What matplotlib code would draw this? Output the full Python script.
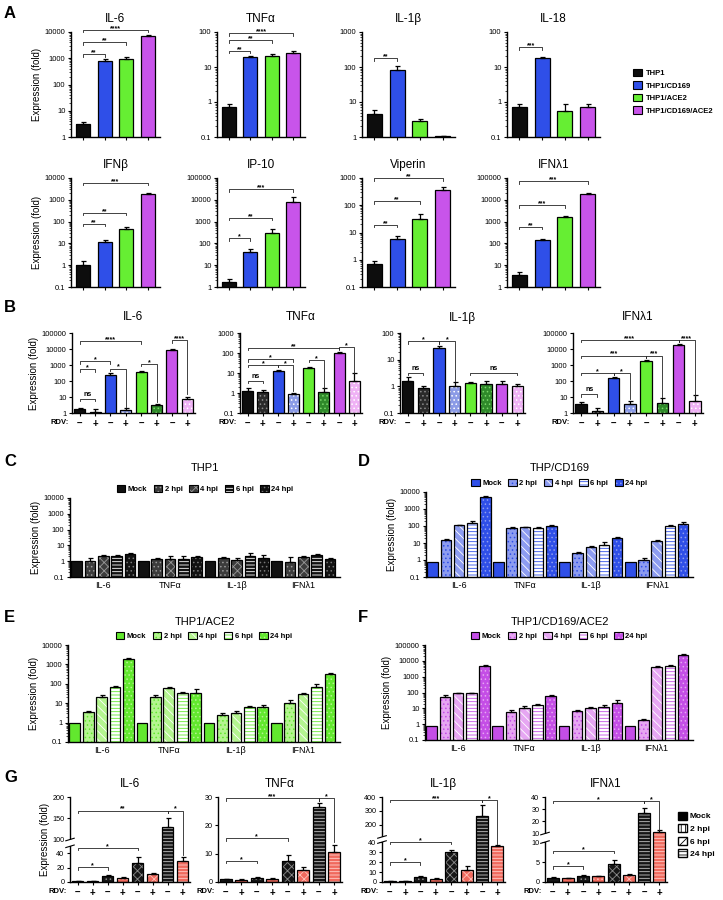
import numpy as np
import matplotlib.pyplot as plt
from matplotlib.patches import Patch, Rectangle
from matplotlib.ticker import FixedLocator, FuncFormatter, LogLocator, NullFormatter

plt.rcParams['font.family'] = ['Liberation Sans', 'DejaVu Sans']
plt.rcParams['hatch.linewidth'] = 0.6
plt.rcParams['axes.linewidth'] = 1.0

W, H = 723.0, 900.0

# ---------------- data ----------------
cells = ['THP1', 'THP1/CD169', 'THP1/ACE2', 'THP1/CD169/ACE2']
cell_colors = ['#0d0d0d', '#2f4fe8', '#66ee33', '#c854ea']
cell_light = ['#2a2a2a', '#8b9be6', '#2f8a2a', '#efb2f5']
cell_dots = ['#8a8a8a', '#ffffff', '#7ad86a', '#ffffff']

# A: four cell lines, eight genes
a_genes = ['IL-6', 'TNFα', 'IL-1β', 'IL-18', 'IFNβ', 'IP-10', 'Viperin', 'IFNλ1']
a_vals = [[3, 800, 900, 7000], [0.7, 19, 21, 25], [4.5, 80, 2.8, 1.05], [0.7, 18, 0.55, 0.7],
          [1, 12, 45, 1800], [1.7, 40, 300, 8000], [0.7, 6, 32, 350], [3.5, 140, 1700, 18000]]
a_errs = [[0.8, 150, 250, 1000], [0.15, 2, 2, 3], [1.5, 30, 0.4, 0.05], [0.15, 1.5, 0.3, 0.2],
          [0.6, 3, 10, 200], [0.6, 15, 150, 6000], [0.2, 1.5, 15, 100], [1.2, 20, 150, 2000]]
a_ylims = [(1, 1e4), (0.1, 100), (1, 1000), (0.1, 100), (0.1, 1e4), (1, 1e5), (0.1, 1000), (1, 1e5)]
a_sig = [[(0, 1, '**', 1400), (0, 2, '**', 4000), (0, 3, '****', 12000)],
         [(0, 1, '**', 29), (0, 2, '**', 59), (0, 3, '****', 93)],
         [(0, 1, '**', 180)],
         [(0, 1, '***', 37)],
         [(0, 1, '**', 80), (0, 2, '**', 250), (0, 3, '***', 6000)],
         [(0, 1, '*', 170), (0, 2, '**', 1500), (0, 3, '***', 30000)],
         [(0, 1, '**', 19), (0, 2, '**', 140), (0, 3, '**', 1000)],
         [(0, 1, '**', 580), (0, 2, '***', 5700), (0, 3, '***', 72000)]]

# B: remdesivir -, + for each cell line
genes4 = ['IL-6', 'TNFα', 'IL-1β', 'IFNλ1']
rdv = ['–', '+', '–', '+', '–', '+', '–', '+']
b_vals = [[1.8, 1.2, 250, 1.5, 350, 3, 9000, 8],
          [1.3, 1.1, 12, 0.85, 18, 1.1, 100, 4],
          [1.6, 0.9, 28, 1.0, 1.3, 1.2, 1.2, 1.0],
          [3.5, 1.3, 150, 3.5, 1800, 4.5, 18000, 6]]
b_errs = [[0.3, 0.6, 50, 0.5, 50, 0.5, 1000, 2],
          [0.4, 0.3, 2, 0.15, 2, 0.6, 15, 6],
          [0.6, 0.15, 5, 0.5, 0.15, 0.4, 0.4, 0.2],
          [1.5, 0.8, 30, 2.5, 200, 4.5, 2000, 7]]
b_ylims = [(1, 1e5), (0.1, 1000), (0.1, 100), (1, 1e5)]
b_sig = [[(0, 1, 'ns', 8, None), (0, 1, '*', 540, None), (0, 2, '*', 1700, None),
          (2, 3, '*', 600, 2.5), (4, 5, '*', 1200, 5), (0, 4, '****', 30000, None),
          (6, 7, '****', 35000, 15)],
         [(0, 1, 'ns', 4, None), (0, 2, '*', 26, None), (2, 3, '*', 26, 1.2),
          (0, 3, '*', 50, None), (4, 5, '*', 45, 1.8), (0, 6, '**', 180, None), (6, 7, '*', 200, 10)],
         [(0, 1, 'ns', 3.2, None), (0, 2, '*', 49, None), (2, 3, '*', 49, 1.6), (4, 7, 'ns', 3.2, None)],
         [(0, 1, 'ns', 15, None), (0, 2, '*', 320, None), (2, 3, '*', 320, 7),
          (0, 4, '***', 3900, None), (4, 5, '***', 3900, 10),
          (0, 6, '****', 37000, None), (6, 7, '****', 37000, 12)]]

# C-F: time course after infection
hpi = ['Mock', '2 hpi', '4 hpi', '6 hpi', '24 hpi']
c_vals = [[1, 1, 2, 2, 2.8], [1, 1.4, 1.4, 1.4, 1.8], [1, 1.6, 1.2, 2, 1.7], [1, 0.9, 1.9, 2.3, 1.4]]
c_errs = [[0, 0.5, 0.3, 0.3, 0.4], [0, 0.2, 0.7, 0.6, 0.3], [0, 0.2, 0.3, 1.3, 0.6], [0, 0.9, 0.3, 0.5, 0.3]]
d_vals = [[0.8, 15, 110, 150, 5000], [0.8, 75, 85, 75, 100], [0.8, 2.5, 6, 8, 20], [0.8, 1.0, 13, 100, 130]]
d_errs = [[0, 2, 10, 50, 500], [0, 8, 8, 10, 10], [0, 0.5, 1, 3, 4], [0, 0.3, 2, 15, 40]]
e_vals = [[0.9, 3.5, 22, 70, 2000], [0.9, 22, 60, 35, 35], [0.9, 2.5, 3.2, 6.5, 6.5], [0.9, 10, 30, 70, 330]]
e_errs = [[0, 0.5, 3, 10, 150], [0, 4, 8, 5, 20], [0, 0.8, 0.8, 1, 1.5], [0, 4, 5, 30, 40]]
f_vals = [[0.8, 55, 90, 90, 5000], [0.8, 6, 11, 17, 60], [0.8, 7, 11, 13, 22], [0.8, 1.8, 4000, 5000, 25000]]
f_errs = [[0, 10, 10, 10, 800], [0, 1.5, 3, 3, 12], [0, 1, 2, 3, 10], [0, 0.3, 600, 800, 4000]]

# G: remdesivir on THP1/CD169/ACE2 time course (linear, broken axes)
g_hpi = ['Mock', '2 hpi', '6 hpi', '24 hpi']
g_vals = [[1, 1, 9, 6, 27, 11, 130, 30],
          [1, 0.8, 1.5, 1.2, 7.5, 4.2, 26.5, 10.5],
          [1, 1, 5, 3, 30, 12, 260, 36],
          [1, 0.9, 1.5, 1.4, 4.6, 1.8, 27, 11]]
g_errs = [[0.3, 0.3, 1.5, 1, 8, 2, 20, 5],
          [0.2, 0.2, 0.3, 0.2, 2, 1, 1.5, 2.5],
          [0.3, 0.3, 1, 0.6, 2, 4, 80, 1],
          [0.2, 0.2, 0.3, 0.2, 0.8, 0.3, 4, 2]]
g_breaks = [([0, 50, 100, 200], [0, 0.42, 0.5, 1.0]),
            ([0, 30], [0, 1.0]),
            ([0, 40, 110, 400], [0, 0.47, 0.53, 1.0]),
            ([0, 10, 10.0001, 40], [0, 0.47, 0.57, 1.0])]
g_ticks = [[0, 20, 40, 100, 150, 200], [0, 10, 20, 30],
           [0, 10, 20, 30, 40, 200, 300, 400], [0, 5, 10, 10.0001, 20, 30, 40]]
g_sig = [[(0, 2, '*', 21, None), (0, 4, '*', 48, None), (0, 6, '**', 168, None), (6, 7, '*', 168, 38)],
         [(0, 2, '*', 7.5, None), (0, 4, '*', 15.5, None), (0, 6, '***', 29.5, None), (6, 7, '*', 29.5, 14)],
         [(0, 2, '*', 20, None), (0, 4, '*', 42, None), (0, 6, '***', 380, None), (6, 7, '*', 380, 38)],
         [(0, 2, '*', 4, None), (0, 4, '*', 7.8, None), (0, 6, '*', 37, None), (6, 7, '*', 37, 13)]]


# ---------------- helpers ----------------
def px_rect(l, t, r, b):
    return [l / W, 1 - b / H, (r - l) / W, (b - t) / H]


def style_axis(ax):
    ax.spines['top'].set_visible(False)
    ax.spines['right'].set_visible(False)
    ax.tick_params(axis='both', labelsize=5.5, width=0.8, length=2.5, pad=1.5)


def log_axis(ax, lo, hi):
    ax.set_yscale('log')
    ax.set_ylim(lo, hi)
    dec = 10.0 ** np.arange(np.log10(lo), np.log10(hi) + 0.5)
    ax.yaxis.set_major_locator(FixedLocator(dec))
    ax.yaxis.set_major_formatter(FuncFormatter(lambda v, p: f'{v:g}'))
    ax.yaxis.set_minor_locator(LogLocator(10, subs=np.arange(2, 10)))
    ax.yaxis.set_minor_formatter(NullFormatter())
    ax.tick_params(axis='y', which='minor', length=1.3, width=0.5)


def hbar(ax, x, h, w, face, hatch=None, hcol='white', err=None):
    ax.bar(x, h, w, color=face, edgecolor=hcol, hatch=hatch, linewidth=0, zorder=2)
    ax.bar(x, h, w, fill=False, edgecolor='black', linewidth=0.9, zorder=3)
    if err:
        ax.errorbar(x, h, yerr=[[0], [err]], fmt='none', ecolor='black',
                    elinewidth=0.9, capsize=1.8, capthick=0.9, zorder=3)


def bracket(ax, x1, x2, y, label, drop=None):
    inv = ax.transData.inverted()
    py = ax.transData.transform((x1, y))[1]
    yt = inv.transform((0, py - 2.5))[1]
    yr = yt if drop is None else drop
    ax.plot([x1, x1, x2, x2], [yt, y, y, yr], color='#222222', lw=0.6,
            clip_on=False, zorder=4)
    off = 0.5 if label == 'ns' else -1.5
    ax.annotate(label, xy=((x1 + x2) / 2, y), xytext=(0, off), textcoords='offset points',
                ha='center', va='bottom', fontsize=5, fontweight='bold', annotation_clip=False)


def broken(bp, fp):
    bp = np.asarray(bp, float)
    fp = np.asarray(fp, float)
    s0 = (fp[1] - fp[0]) / (bp[1] - bp[0])
    s1 = (fp[-1] - fp[-2]) / (bp[-1] - bp[-2])
    b2 = np.concatenate([[bp[0] - 1e4], bp, [bp[-1] + 1e4]])
    f2 = np.concatenate([[fp[0] - 1e4 * s0], fp, [fp[-1] + 1e4 * s1]])
    return (lambda y: np.interp(y, b2, f2)), (lambda f: np.interp(f, f2, b2))


def time_styles(base, light, black=False):
    if black:
        return [(base, None, 'white'), (light, '....', '#999999'), (light, 'xxxx', '#999999'),
                (base, '-----', 'white'), (base, '....', '#777777')]
    return [(base, None, 'white'), (light, '....', base), (light, '\\\\\\\\', 'white'),
            ('white', '-----', base), (base, '....', light)]


fig = plt.figure(figsize=(7.23, 9.0), dpi=100)


def label(x, y, s):
    fig.text(x / W, 1 - y / H, s, fontsize=12, fontweight='bold', ha='left', va='center')


# ---------------- panel A ----------------
label(4, 14, 'A')
a_x = [(71, 160), (217, 305), (362, 455), (507, 600)]
a_rows = [(32, 137), (178, 287)]
for g in range(8):
    l, r = a_x[g % 4]
    t, b = a_rows[g // 4]
    ax = fig.add_axes(px_rect(l, t, r, b))
    style_axis(ax)
    log_axis(ax, *a_ylims[g])
    ax.set_xlim(-0.55, 3.55)
    ax.set_xticks(range(4))
    ax.set_xticklabels([])
    for i in range(4):
        hbar(ax, i, a_vals[g][i], 0.65, cell_colors[i], err=a_errs[g][i])
    for x1, x2, s, y in a_sig[g]:
        bracket(ax, x1, x2, y, s)
    ax.set_title(a_genes[g], fontsize=8.5, pad=7)
    if g % 4 == 0:
        ax.set_ylabel('Expression (fold)', fontsize=7, labelpad=2)

fig.legend(handles=[Patch(facecolor=c, edgecolor='black', linewidth=0.8) for c in cell_colors],
           labels=cells, loc='upper left', bbox_to_anchor=(626 / W, 1 - 62 / H), frameon=False,
           prop={'size': 5.5, 'weight': 'bold'}, handlelength=1.2, handleheight=1.1,
           labelspacing=0.55, handletextpad=0.5)

# ---------------- panel B ----------------
label(4, 308, 'B')
b_x = [(72, 195), (240, 362), (400, 525), (573, 703)]
for g in range(4):
    l, r = b_x[g]
    ax = fig.add_axes(px_rect(l, 333, r, 413))
    style_axis(ax)
    log_axis(ax, *b_ylims[g])
    ax.set_xlim(-0.5, 7.5)
    for i in range(8):
        k = i // 2
        if i % 2 == 0:
            hbar(ax, i, b_vals[g][i], 0.72, cell_colors[k], err=b_errs[g][i])
        else:
            hbar(ax, i, b_vals[g][i], 0.72, cell_light[k], '....', cell_dots[k], err=b_errs[g][i])
    ax.set_xticks(range(8))
    ax.set_xticklabels(rdv, fontsize=7, fontweight='bold')
    ax.annotate('RDV:', xy=(0, 0), xycoords='axes fraction', xytext=(-2, -4.5),
                textcoords='offset points', ha='right', va='top', fontsize=5.5, fontweight='bold')
    for x1, x2, s, y, d in b_sig[g]:
        bracket(ax, x1, x2, y, s, d)
    ax.set_title(genes4[g], fontsize=8.5, pad=9)
    if g == 0:
        ax.set_ylabel('Expression (fold)', fontsize=7, labelpad=2)

# ---------------- panels C-F ----------------
cf = [('C', 'THP1', c_vals, c_errs, (70, 498, 340, 577), (0.1, 1e4), time_styles('#111111', '#3c3c3c', True), (4, 462), (205, 468)),
      ('D', 'THP/CD169', d_vals, d_errs, (426, 492, 693, 577), (0.1, 1e4), time_styles('#2f4fe8', '#8d9cf0'), (358, 462), (560, 468)),
      ('E', 'THP1/ACE2', e_vals, e_errs, (68, 645, 340, 742), (0.1, 1e4), time_styles('#62e82e', '#b4f590'), (4, 617), (205, 622)),
      ('F', 'THP1/CD169/ACE2', f_vals, f_errs, (425, 645, 693, 740), (0.1, 1e5), time_styles('#c44ee6', '#e6a6f2'), (358, 617), (560, 622))]
for letter, title, vals, errs, box, ylim, sty, lpos, tpos in cf:
    label(lpos[0], lpos[1], letter)
    fig.text(tpos[0] / W, 1 - tpos[1] / H, title, fontsize=8, ha='center', va='center')
    ax = fig.add_axes(px_rect(*box))
    style_axis(ax)
    log_axis(ax, *ylim)
    ax.set_xlim(-0.5, 3.55)
    for gi in range(4):
        for k in range(5):
            face, hatch, hcol = sty[k]
            hbar(ax, gi + (k - 2) * 0.2, vals[gi][k], 0.16, face, hatch, hcol, err=errs[gi][k])
    ax.set_xticks(range(4))
    ax.set_xticklabels(genes4, fontsize=6.5)
    ax.tick_params(axis='x', length=0, pad=3)
    ax.set_ylabel('Expression (fold)', fontsize=7, labelpad=2)
    handles = [(Patch(facecolor=f, edgecolor=hc, hatch=h, linewidth=0),
                Patch(facecolor='none', edgecolor='black', linewidth=0.8)) for f, h, hc in sty]
    ax.legend(handles, hpi, loc='lower center', bbox_to_anchor=(0.5, 1.0), ncol=5, frameon=False,
              prop={'size': 5.5, 'weight': 'bold'}, handlelength=1.1, handleheight=1.1,
              handletextpad=0.3, columnspacing=0.9, borderaxespad=0.2)

# ---------------- panel G ----------------
label(4, 777, 'G')
g_x = [(70, 190), (218, 342), (382, 505), (545, 667)]
g_face = ['#161616', '#f06a5e']
g_hatch = [None, '....', 'xxxx', '-----']
g_hcol = [['white', '#8c8c8c', '#8c8c8c', '#c8c8c8'], ['white', '#ffc0b8', '#ffc0b8', '#ffd0ca']]
for g in range(4):
    l, r = g_x[g]
    ax = fig.add_axes(px_rect(l, 797, r, 882))
    style_axis(ax)
    bp, fp = g_breaks[g]
    fwd, inv = broken(bp, fp)
    ax.set_yscale('function', functions=(fwd, inv))
    ax.set_ylim(bp[0], bp[-1])
    ax.yaxis.set_major_locator(FixedLocator(g_ticks[g]))
    ax.yaxis.set_major_formatter(FuncFormatter(lambda v, p: f'{round(v):g}'))
    ax.set_xlim(-0.5, 7.5)
    for i in range(8):
        tp, rd = i // 2, i % 2
        hbar(ax, i, g_vals[g][i], 0.78, g_face[rd], g_hatch[tp], g_hcol[rd][tp], err=g_errs[g][i])
    if len(bp) > 2:
        f1, f2 = fp[1], fp[2]
        ax.add_patch(Rectangle((-0.04, f1), 0.08, f2 - f1, transform=ax.transAxes,
                               facecolor='white', edgecolor='none', clip_on=False, zorder=5))
        for f in (f1, f2):
            ax.plot([-0.035, 0.035], [f - 0.015, f + 0.015], transform=ax.transAxes,
                    color='black', lw=0.8, clip_on=False, zorder=6)
    ax.set_xticks(range(8))
    ax.set_xticklabels(rdv, fontsize=7, fontweight='bold')
    ax.tick_params(axis='y', labelsize=5.2)
    ax.annotate('RDV:', xy=(0, 0), xycoords='axes fraction', xytext=(-2, -4.5),
                textcoords='offset points', ha='right', va='top', fontsize=5.5, fontweight='bold')
    for x1, x2, s, y, d in g_sig[g]:
        bracket(ax, x1, x2, y, s, d)
    ax.set_title(genes4[g], fontsize=8.5, pad=7)
    if g == 0:
        ax.set_ylabel('Expression (fold)', fontsize=7, labelpad=2)

g_handles = [Patch(facecolor='black', edgecolor='black'),
             Patch(facecolor='white', edgecolor='black', hatch='||||'),
             Patch(facecolor='white', edgecolor='black', hatch='////'),
             Patch(facecolor='white', edgecolor='black', hatch='-----')]
fig.legend(g_handles, g_hpi, loc='upper left', bbox_to_anchor=(670 / W, 1 - 804 / H), frameon=False,
           prop={'size': 6, 'weight': 'bold'}, handlelength=1.1, handleheight=1.1,
           labelspacing=0.45, handletextpad=0.4)

fig.savefig('out.png', dpi=100)
